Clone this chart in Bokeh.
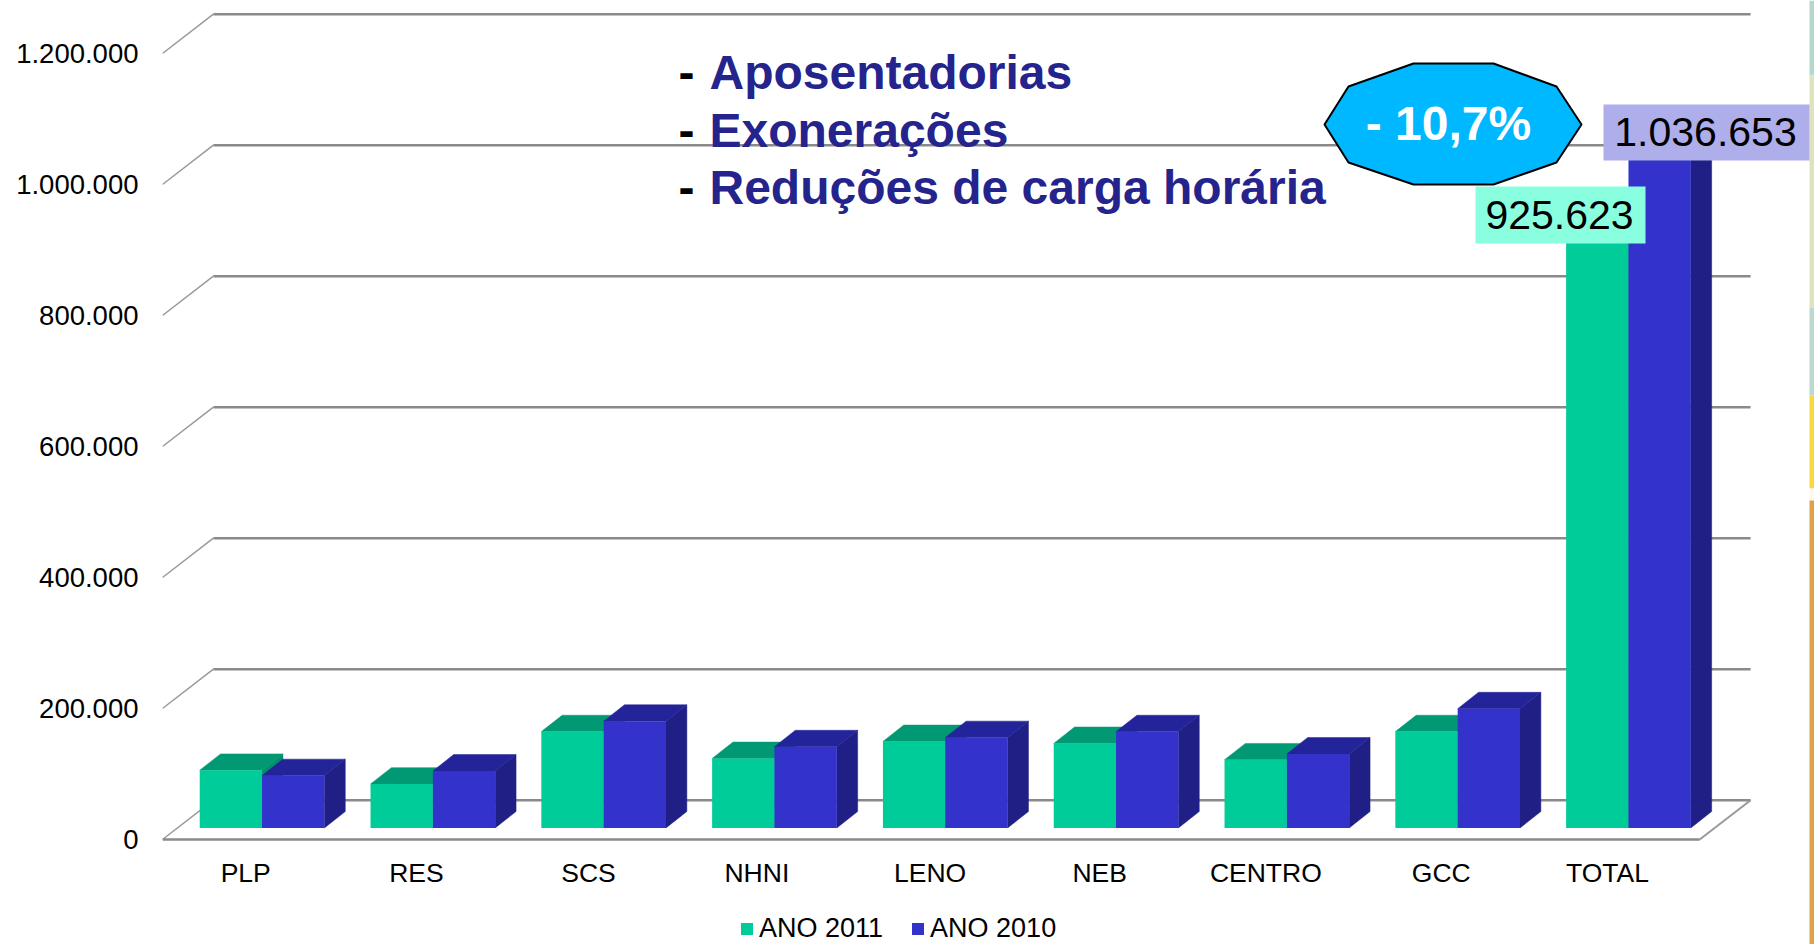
from bokeh.plotting import figure
from bokeh.models import Range1d, Legend, LegendItem, FixedTicker
from bokeh.embed import file_html
from bokeh.resources import INLINE
from bokeh.core.properties import value

categories = ["PLP", "RES", "SCS", "NHNI", "LENO", "NEB", "CENTRO", "GCC", "TOTAL"]
ano_2011 = [88000, 67000, 147000, 106000, 132000, 129000, 104000, 147000, 925623]
ano_2010 = [80000, 87000, 163000, 124000, 138000, 147000, 113000, 182000, 1036653]
y_ticks = [0, 200000, 400000, 600000, 800000, 1000000, 1200000]
y_labels = ["0", "200.000", "400.000", "600.000", "800.000", "1.000.000", "1.200.000"]
notes = ["Aposentadorias", "Exonerações", "Reduções de carga horária"]
callout = "- 10,7%"
total_2011_label = "925.623"
total_2010_label = "1.036.653"

W, H = 1814, 944
FL, FB = 162, 839          # frame left, zero line in canvas px
SLOT = 170.8
UNIT = 131.0 / 200000


def dx(px):  # reference px -> data x
    return (px - FL) / SLOT


def dy(py):  # reference px -> data y
    return (FB - py) / UNIT


FONT = "Liberation Sans"
p = figure(width=W, height=H, output_backend="svg", toolbar_location=None,
           x_range=Range1d(0, dx(W)), y_range=Range1d(dy(H), dy(0)),
           min_border_left=FL, min_border_right=0, min_border_top=0,
           min_border_bottom=0, outline_line_color=None,
           background_fill_color="white", border_fill_color="white")
p.grid.visible = False

p.yaxis.ticker = FixedTicker(ticks=y_ticks)
p.yaxis.major_label_overrides = dict(zip(y_ticks, y_labels))
p.yaxis.axis_line_color = None
p.yaxis.major_tick_line_color = None
p.yaxis.minor_tick_line_color = None
p.yaxis.major_label_standoff = 18
p.yaxis.major_label_text_font = FONT
p.yaxis.major_label_text_font_size = "27.5px"
p.yaxis.major_label_text_color = "black"

x_ticks = [0.487, 1.487, 2.494, 3.48, 4.494, 5.487, 6.46, 7.487, 8.46]
p.xaxis.fixed_location = 0
p.xaxis.ticker = FixedTicker(ticks=x_ticks)
p.xaxis.major_label_overrides = dict(zip(x_ticks, categories))
p.xaxis.axis_line_color = None
p.xaxis.major_tick_line_color = None
p.xaxis.minor_tick_line_color = None
p.xaxis.major_label_standoff = 12
p.xaxis.major_label_text_font = FONT
p.xaxis.major_label_text_font_size = "26.5px"
p.xaxis.major_label_text_color = "black"

# right-hand page decoration
strip = [(0, 75, "#b5d8cb"), (75, 307, "#dfe2bd"), (307, 395, "#bcd9cf"),
         (395, 488, "#f9d93f"), (488, 500, "#fdf8ee"), (500, 944, "#dfa24a")]
for t, b, c in strip:
    p.quad(left=dx(1809), right=dx(1816), top=dy(t), bottom=dy(b), fill_color=c, line_color=None)

# 3-D frame
DEPTH_X = 0.298
DEPTH_Y = 60000
n = len(categories)
GRID = "#8a8a8a"
p.multi_line([[DEPTH_X, n + DEPTH_X] for _ in y_ticks],
             [[v + DEPTH_Y, v + DEPTH_Y] for v in y_ticks],
             line_color=GRID, line_width=2.5)
p.multi_line([[0, DEPTH_X] for _ in y_ticks],
             [[v, v + DEPTH_Y] for v in y_ticks],
             line_color="#999999", line_width=1.5)
p.line([0, n], [0, 0], line_color=GRID, line_width=2.5)
p.line([n, n + DEPTH_X], [0, DEPTH_Y], line_color="#999999", line_width=2)

# 3-D bars
BAR_W = 0.365
BAR_X0 = 0.218
BAR_DX = 0.122
BAR_DY = 25000
BAR_BASE = 17700


def bars(values, shift, front, top, side):
    lefts = [i * 1.0 + BAR_X0 + shift for i in range(n)]
    rights = [l + BAR_W for l in lefts]
    tops = [v + BAR_BASE for v in values]
    p.patches([[r, r + BAR_DX, r + BAR_DX, r] for r in rights],
              [[BAR_BASE, BAR_BASE + BAR_DY, t + BAR_DY, t] for t in tops],
              fill_color=side, line_color=side, line_width=0.5)
    p.patches([[l, l + BAR_DX, r + BAR_DX, r] for l, r in zip(lefts, rights)],
              [[t, t + BAR_DY, t + BAR_DY, t] for t in tops],
              fill_color=top, line_color=top, line_width=0.5)
    return p.quad(left=lefts, right=rights, bottom=BAR_BASE, top=tops,
                  fill_color=front, line_color=None)


g2011 = bars(ano_2011, 0, "#00cc99", "#009973", "#008f6b")
g2010 = bars(ano_2010, BAR_W, "#3333cc", "#24249a", "#1f1f85")

# value boxes
p.quad(left=dx(1475), right=dx(1645), top=dy(186), bottom=dy(243), fill_color="#8affe0", line_color=None)
p.quad(left=dx(1603), right=dx(1809), top=dy(104), bottom=dy(160), fill_color="#aeaeea", line_color=None)
p.text([dx(1559)], [dy(214)], text=[total_2011_label], text_font=value(FONT), text_font_size="41px",
       text_color="black", text_align="center", text_baseline="middle")
p.text([dx(1705)], [dy(131)], text=[total_2010_label], text_font=value(FONT), text_font_size="41px",
       text_color="black", text_align="center", text_baseline="middle")

# callout
oct_x = [1324, 1348, 1413, 1493, 1556, 1581, 1556, 1493, 1413, 1348]
oct_y = [124, 86, 63, 63, 86, 124, 162, 184, 184, 162]
p.patch([dx(v) for v in oct_x], [dy(v) for v in oct_y], fill_color="#00b8ff",
        line_color="black", line_width=2)
p.text([dx(1448)], [dy(123)], text=[callout], text_font=value(FONT), text_font_size="48px",
       text_font_style="bold", text_color="white", text_align="center", text_baseline="middle")

# notes
centres = [72, 130, 187]
p.text([dx(678)] * 3, [dy(v) for v in centres], text=["-"] * 3, text_font=value(FONT),
       text_font_size="48px", text_font_style="bold", text_color="black",
       text_baseline="middle")
p.text([dx(709)] * 3, [dy(v) for v in centres], text=notes, text_font=value(FONT),
       text_font_size="48px", text_font_style="bold", text_color="#24248c",
       text_baseline="middle")

legend = Legend(items=[LegendItem(label="ANO 2011", renderers=[g2011]),
                       LegendItem(label="ANO 2010", renderers=[g2010])],
                orientation="horizontal", location=(577, 0),
                glyph_width=15, glyph_height=15, label_standoff=5, spacing=27,
                padding=0, margin=0, border_line_color=None, background_fill_alpha=0,
                label_height=15, label_text_line_height=0.9,
                label_text_font=FONT, label_text_font_size="27px", label_text_color="black")
p.add_layout(legend)

open("out.html", "w").write(file_html(p, INLINE))
